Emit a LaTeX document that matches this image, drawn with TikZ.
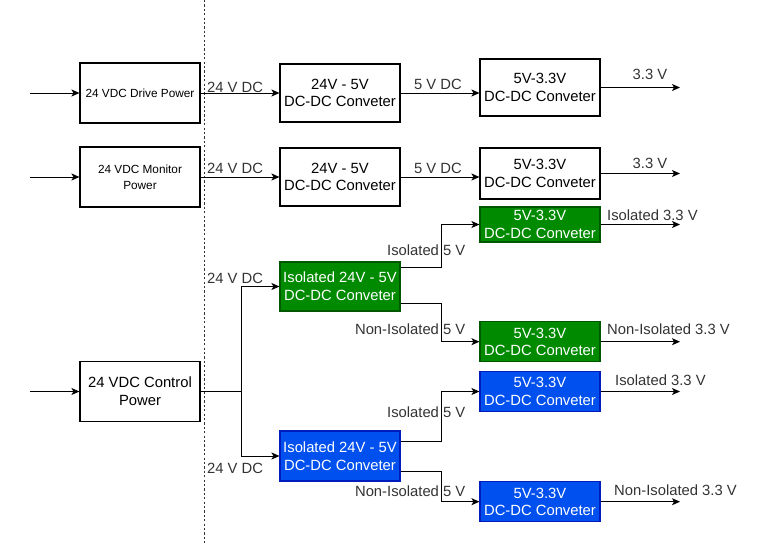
\documentclass[tikz,border=0pt]{standalone}
\usepackage{fontspec}
\setmainfont{Liberation Sans}
\usepackage{tikz}
\usetikzlibrary{arrows.meta,positioning}
\definecolor{isogreen}{HTML}{008A00}
\definecolor{isogreenline}{HTML}{005700}
\definecolor{isoblue}{HTML}{0050EF}
\definecolor{isoblueline}{HTML}{001DBC}
\definecolor{divider}{HTML}{333333}

\begin{document}
\begin{tikzpicture}[
  x=1pt, y=-1pt,
  box/.style={draw, line width=1.1pt, minimum width=120pt, inner sep=0pt, align=center,
              font=\fontsize{14.8}{17.6}\selectfont},
  smallbox/.style={box, font=\fontsize{11.8}{16}\selectfont},
  gbox/.style={box, fill=isogreen, draw=isogreenline, text=white},
  bbox/.style={box, fill=isoblue, draw=isoblueline, text=white},
  arr/.style={-{Stealth[length=8pt,width=7pt,inset=2pt]}, line width=1pt},
  lbl/.style={inner sep=0pt, font=\fontsize{14.8}{17.6}\selectfont, text=black!80}
]
  \useasboundingbox (0,0) rectangle (762,543);

  % divider
  \draw[divider, line width=1pt, dash pattern=on 2.2pt off 2.2pt] (204.3,0) -- (204.3,543);

  % sources
  \node[smallbox, minimum height=60pt] (drive) at (140,93) {24 VDC Drive Power};
  \node[smallbox, minimum height=60pt] (monitor) at (140,177) {24 VDC Monitor\\Power};
  \node[box, minimum height=60pt] (control) at (140,391.5) {24 VDC Control\\Power};
  \coordinate (inA) at (30,93);
  \coordinate (inB) at (30,177);
  \coordinate (inC) at (30,391.5);

  % plain converters
  \node[box, minimum height=58pt] (buckA) at (340,93) {24V - 5V\\DC-DC Conveter};
  \node[box, minimum height=58pt] (buckB) at (340,177) {24V - 5V\\DC-DC Conveter};
  \node[box, minimum height=57pt] (ldoA) at (540,87.5) {5V-3.3V\\DC-DC Conveter};
  \node[box, minimum height=51pt] (ldoB) at (540,173.5) {5V-3.3V\\DC-DC Conveter};

  % isolated converters
  \node[gbox, minimum height=49pt] (isoG) at (340,286.5) {Isolated 24V - 5V\\DC-DC Conveter};
  \node[gbox, minimum height=35pt] (ldoGi) at (540,224.5) {5V-3.3V\\DC-DC Conveter};
  \node[gbox, minimum height=40pt] (ldoGn) at (540,341.7) {5V-3.3V\\DC-DC Conveter};
  \node[bbox, minimum height=50pt] (isoB) at (340,456) {Isolated 24V - 5V\\DC-DC Conveter};
  \node[bbox, minimum height=40pt] (ldoBi) at (540,391.5) {5V-3.3V\\DC-DC Conveter};
  \node[bbox, minimum height=40pt] (ldoBn) at (540,501.7) {5V-3.3V\\DC-DC Conveter};

  % outputs
  \coordinate (outA) at (680,87.5);
  \coordinate (outB) at (680,173.5);
  \coordinate (outGi) at (680,224.5);
  \coordinate (outGn) at (680,341.7);
  \coordinate (outBi) at (680,391.5);
  \coordinate (outBn) at (680,501.7);
  \coordinate (split) at (241,391.5);

  % labels
  \node[lbl] (vA) at (235,87) {24 V DC};
  \node[lbl] (vB) at (235,168) {24 V DC};
  \node[lbl] (vG) at (235,278) {24 V DC};
  \node[lbl] (vC) at (235,468) {24 V DC};
  \node[lbl] (fA) at (438,84.5) {5 V DC};
  \node[lbl] (fB) at (438,168) {5 V DC};
  \node[lbl] (tA) at (650,74) {3.3 V};
  \node[lbl] (tB) at (650,163) {3.3 V};
  \node[lbl, anchor=east] (fGi) at (465.5,250.5) {Isolated 5 V};
  \node[lbl, anchor=east] (fGn) at (465.5,329) {Non-Isolated 5 V};
  \node[lbl, anchor=east] (fBi) at (465.5,412) {Isolated 5 V};
  \node[lbl, anchor=east] (fBn) at (465.5,491) {Non-Isolated 5 V};
  \node[lbl, anchor=west] (tGi) at (607,215) {Isolated 3.3 V};
  \node[lbl, anchor=west] (tGn) at (607,329) {Non-Isolated 3.3 V};
  \node[lbl, anchor=west] (tBi) at (615,380) {Isolated 3.3 V};
  \node[lbl, anchor=west] (tBn) at (614,490) {Non-Isolated 3.3 V};

  % wiring
  \draw[arr] (inA) -- (drive);
  \draw[arr] (inB) -- (monitor);
  \draw[arr] (inC) -- (control);
  \draw[arr] (drive) -- (buckA);
  \draw[arr] (monitor) -- (buckB);
  \draw[arr] (buckA.east) -- (buckA.east -| ldoA.west);
  \draw[arr] (buckB.east) -- (buckB.east -| ldoB.west);
  \draw[arr] (ldoA) -- (outA);
  \draw[arr] (ldoB) -- (outB);

  \draw[line width=1pt] (control.east) -- (split);
  \draw[arr] (split) |- (isoG.west);
  \draw[arr] (split) |- (isoB.west);
  \draw[arr] ([yshift=19pt]isoG.east) -- ++(41,0) |- (ldoGi.west);
  \draw[arr] ([yshift=-17pt]isoG.east) -- ++(41,0) |- (ldoGn.west);
  \draw[arr] ([yshift=15pt]isoB.east) -- ++(41,0) |- (ldoBi.west);
  \draw[arr] ([yshift=-15pt]isoB.east) -- ++(41,0) |- (ldoBn.west);
  \draw[arr] (ldoGi) -- (outGi);
  \draw[arr] (ldoGn) -- (outGn);
  \draw[arr] (ldoBi) -- (outBi);
  \draw[arr] (ldoBn) -- (outBn);
\end{tikzpicture}
\end{document}
